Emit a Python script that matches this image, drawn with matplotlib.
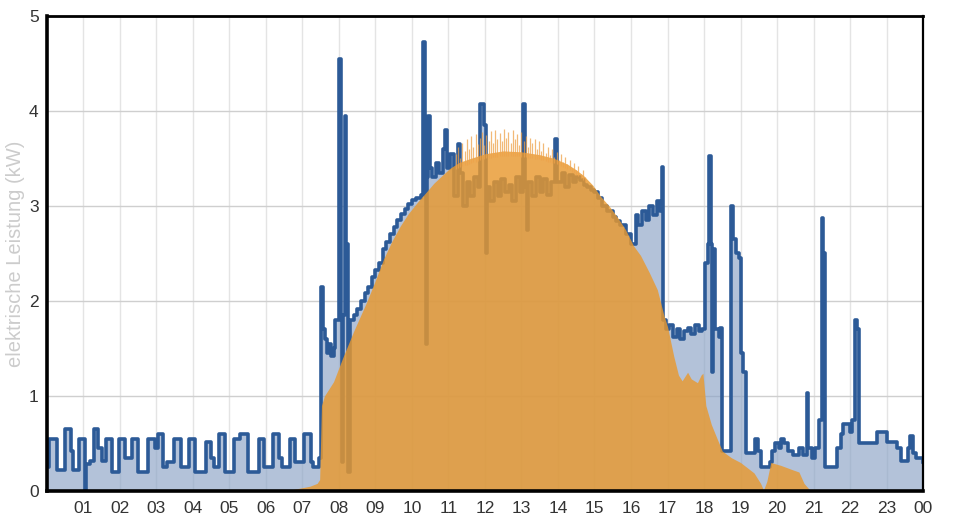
import numpy as np
import matplotlib.pyplot as plt

# consumption (kW), step breakpoints: hour, value
cons_t = [0.00, 0.05, 0.27, 0.48, 0.66, 0.72, 0.88, 1.04, 1.08, 1.18, 1.30, 1.40, 1.50,
          1.62, 1.78, 1.98, 2.14, 2.34, 2.50, 2.78, 2.95, 3.05, 3.18, 3.30, 3.48, 3.68,
          3.90, 4.06, 4.36, 4.50, 4.58, 4.72, 4.88, 5.12, 5.30, 5.50, 5.82, 5.95, 6.20,
          6.36, 6.45, 6.65, 6.80, 7.05, 7.22, 7.30, 7.45,
          7.52, 7.56, 7.62, 7.68, 7.72, 7.78, 7.85, 7.90, 8.01, 8.05, 8.07, 8.10, 8.16,
          8.20, 8.24, 8.26, 8.29,
          8.40, 8.50, 8.60, 8.70, 8.80, 8.90, 9.00, 9.10, 9.20, 9.30, 9.40, 9.50, 9.60,
          9.70, 9.80, 9.90, 10.00, 10.10, 10.25, 10.31, 10.35, 10.37, 10.40, 10.44, 10.48,
          10.55, 10.65, 10.75, 10.85, 10.90, 10.97, 11.05, 11.15, 11.25, 11.32, 11.40,
          11.50, 11.60, 11.70, 11.80, 11.87, 11.96, 12.02, 12.06, 12.15, 12.25, 12.35,
          12.45, 12.55, 12.65, 12.75, 12.85, 12.95, 13.05, 13.10, 13.14, 13.18, 13.30,
          13.40, 13.50, 13.60, 13.70, 13.80, 13.93, 13.98, 14.10, 14.20, 14.30, 14.40,
          14.50, 14.60, 14.70, 14.80, 14.90, 15.00, 15.10, 15.20, 15.35, 15.50, 15.60,
          15.70, 15.85, 16.00, 16.13, 16.20, 16.30, 16.40, 16.50, 16.60, 16.70, 16.80,
          16.84, 16.88, 16.95, 17.05, 17.15, 17.25, 17.35, 17.45, 17.55, 17.65, 17.75,
          17.85, 17.95, 18.02, 18.10, 18.15, 18.20, 18.23, 18.26, 18.30, 18.40, 18.45,
          18.50, 18.75, 18.80, 18.87, 18.95, 19.00, 19.08, 19.15,
          19.40, 19.47, 19.55, 19.80, 19.87, 19.95, 20.05, 20.12, 20.20, 20.30, 20.45,
          20.60, 20.70, 20.82, 20.86, 20.95, 21.05, 21.15, 21.22, 21.27, 21.31, 21.65,
          21.75, 21.82, 22.00, 22.05, 22.15, 22.20, 22.24, 22.50, 22.75, 23.00, 23.30,
          23.40, 23.60, 23.65, 23.72, 23.80, 24.00]
cons_v = [0.25, 0.55, 0.22, 0.65, 0.42, 0.22, 0.55, 0.00, 0.28, 0.32, 0.65, 0.45, 0.32,
          0.55, 0.20, 0.55, 0.35, 0.55, 0.20, 0.55, 0.45, 0.60, 0.25, 0.30, 0.55, 0.25,
          0.55, 0.20, 0.52, 0.35, 0.25, 0.60, 0.20, 0.55, 0.60, 0.20, 0.55, 0.25, 0.60,
          0.35, 0.25, 0.55, 0.30, 0.60, 0.30, 0.25, 0.35,
          2.15, 1.70, 1.60, 1.45, 1.55, 1.42, 1.50, 1.80, 4.55, 1.80, 0.30, 1.85, 3.95,
          2.60, 1.80, 0.20, 1.80,
          1.85, 1.92, 2.00, 2.08, 2.15, 2.25, 2.33, 2.40, 2.55, 2.62, 2.70, 2.78, 2.85,
          2.92, 2.97, 3.02, 3.06, 3.08, 3.12, 4.73, 3.30, 1.55, 3.30, 3.95, 3.40,
          3.30, 3.45, 3.35, 3.60, 3.80, 3.40, 3.55, 3.10, 3.65, 3.35, 3.00,
          3.25, 3.10, 3.30, 3.20, 4.07, 3.85, 2.50, 3.20, 3.05, 3.25, 3.10,
          3.28, 3.15, 3.22, 3.05, 3.30, 3.15, 4.07, 3.20, 2.75, 3.25, 3.10,
          3.30, 3.15, 3.28, 3.12, 3.25, 3.70, 3.25, 3.35, 3.20, 3.33, 3.25,
          3.30, 3.27, 3.22, 3.20, 3.17, 3.15, 3.08, 3.00, 2.95, 2.88, 2.84,
          2.80, 2.70, 2.60, 2.90, 2.80, 2.95, 2.85, 3.00, 2.90, 3.05, 2.95,
          3.41, 1.80, 1.70, 1.75, 1.62, 1.70, 1.60, 1.68, 1.72, 1.65, 1.75,
          1.68, 1.70, 2.40, 2.60, 3.53, 2.60, 1.25, 2.55, 1.70, 1.62, 1.72,
          0.42, 3.00, 2.65, 2.50, 2.45, 1.45, 1.25, 0.40,
          0.55, 0.42, 0.25, 0.30, 0.42, 0.50, 0.45, 0.55, 0.50, 0.42, 0.38,
          0.45, 0.38, 1.03, 0.45, 0.35, 0.45, 0.75, 2.87, 2.50, 0.25, 0.45,
          0.60, 0.70, 0.62, 0.75, 1.80, 1.70, 0.50, 0.50, 0.62, 0.52, 0.45,
          0.32, 0.45, 0.58, 0.40, 0.35, 0.30]

# PV production (kW), hour, value
pv_t = [6.50, 6.80, 7.20, 7.40, 7.47, 7.52, 7.60, 7.85, 8.10, 8.40, 8.77, 9.00, 9.22,
        9.45, 9.68, 9.90, 10.15, 10.40, 10.60, 10.85, 11.05, 11.30, 11.60, 12.00, 12.50,
        13.00, 13.50, 13.90, 14.26, 14.50, 14.70, 14.95, 15.17, 15.40, 15.63, 15.85,
        16.07, 16.26, 16.50, 16.72, 16.90, 17.00, 17.17, 17.30, 17.40, 17.55, 17.65,
        17.82, 17.92, 17.97, 18.05, 18.20, 18.37, 18.50, 18.75, 19.00, 19.37, 19.55,
        19.63, 19.72, 19.83, 20.10, 20.45, 20.60, 20.74, 20.90, 21.00]
pv_v = [0.00, 0.02, 0.05, 0.08, 0.12, 0.90, 1.00, 1.15, 1.40, 1.68, 2.00, 2.22, 2.44,
        2.63, 2.79, 2.92, 3.04, 3.15, 3.24, 3.33, 3.40, 3.46, 3.50, 3.55, 3.58,
        3.57, 3.54, 3.50, 3.44, 3.38, 3.32, 3.22, 3.10, 3.00, 2.88, 2.75,
        2.58, 2.48, 2.30, 2.12, 1.85, 1.73, 1.42, 1.22, 1.16, 1.25, 1.18,
        1.14, 1.22, 1.24, 0.90, 0.70, 0.54, 0.42, 0.35, 0.30, 0.19, 0.08,
        0.01, 0.10, 0.30, 0.27, 0.22, 0.20, 0.08, 0.01, 0.00]

# short PV peaks around noon (kW)
pv_peaks = [3.55, 3.62, 3.50, 3.66, 3.58, 3.70, 3.60, 3.74, 3.62, 3.76, 3.65, 3.72,
            3.78, 3.64, 3.75, 3.68, 3.79, 3.66, 3.80, 3.70, 3.77, 3.68, 3.81, 3.72,
            3.78, 3.66, 3.80, 3.70, 3.76, 3.64, 3.78, 3.68, 3.74, 3.62, 3.72, 3.66,
            3.70, 3.60, 3.68, 3.58, 3.66, 3.56, 3.62, 3.54, 3.60, 3.52, 3.57, 3.48,
            3.55, 3.46, 3.52, 3.44, 3.48, 3.40, 3.45, 3.38, 3.42, 3.34, 3.38, 3.30]
peak_t = np.linspace(11.2, 14.74, len(pv_peaks))

hour_labels = ['01', '02', '03', '04', '05', '06', '07', '08', '09', '10', '11', '12',
               '13', '14', '15', '16', '17', '18', '19', '20', '21', '22', '23', '00']

plt.rcParams['font.family'] = ['Liberation Sans', 'DejaVu Sans']
fig = plt.figure(figsize=(9.55, 5.28), dpi=100)
ax = fig.add_axes([0.0492, 0.0701, 0.9173, 0.8996])

ax.fill_between(cons_t, cons_v, step='post', color='#8aa2c6', alpha=0.65, lw=0, zorder=2)
ax.plot(cons_t, cons_v, drawstyle='steps-post', color='#2c5a97', lw=2.6, zorder=3)

ax.fill_between(pv_t, pv_v, color='#e8992f', alpha=0.82, lw=0, zorder=4)
base = np.interp(peak_t, pv_t, pv_v) - 0.05
ax.vlines(peak_t, base, pv_peaks, color='#eea24a', lw=0.9, alpha=0.75, zorder=4)

ax.set_xlim(0, 24)
ax.set_ylim(0, 5)
ax.set_xticks(range(1, 25))
ax.set_xticklabels(hour_labels)
ax.set_yticks(range(0, 6))
ax.tick_params(length=0, labelsize=12.5, labelcolor='#333333', pad=7)
ax.tick_params(axis='y', pad=6)
ax.grid(axis='x', color='#e4e4e4', lw=1)
ax.grid(axis='y', color='#cfcfcf', lw=1)
ax.set_axisbelow(True)

ax.spines['left'].set_linewidth(2.6)
ax.spines['bottom'].set_linewidth(2.6)
ax.spines['top'].set_linewidth(2.0)
ax.spines['right'].set_linewidth(1.6)
for s in ax.spines.values():
    s.set_color('black')
    s.set_zorder(6)

ax.set_ylabel('elektrische Leistung (kW)', color='#cccccc', fontsize=14.5)
ax.yaxis.set_label_coords(-0.025, 0.5)

plt.savefig('out.png', dpi=100)
